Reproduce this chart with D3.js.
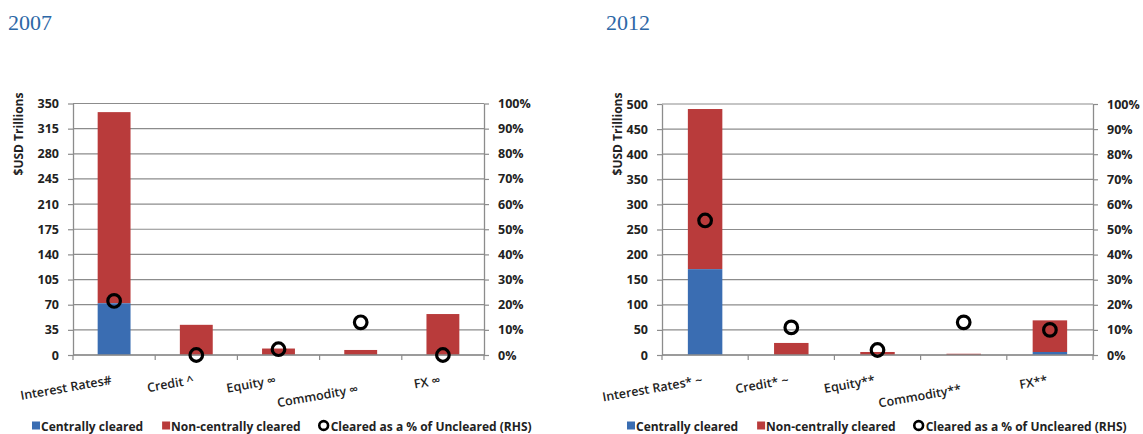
<!DOCTYPE html>
<html><head><meta charset="utf-8">
<script src="https://cdn.jsdelivr.net/npm/d3@7"></script>
<style>
body{margin:0;background:#fff;}
text{font-family:"Open Sans",sans-serif;}
</style></head>
<body><svg id="c" width="1143" height="434"></svg>
<script>
const categories2007 = ["Interest Rates#", "Credit ^", "Equity ∞", "Commodity ∞", "FX ∞"];
const central2007 = [72, 0, 0, 0, 0];
const nonCentral2007 = [266, 42, 9, 7, 57];
const pctCleared2007 = [21.5, 0, 2.3, 13, 0];
const leftTicks2007 = [0, 35, 70, 105, 140, 175, 210, 245, 280, 315, 350];

const categories2012 = ["Interest Rates* ~", "Credit* ~", "Equity**", "Commodity**", "FX**"];
const central2012 = [171, 0, 0, 0, 6];
const nonCentral2012 = [319, 24, 6, 2.5, 63];
const pctCleared2012 = [53.6, 11, 2, 13, 10];
const leftTicks2012 = [0, 50, 100, 150, 200, 250, 300, 350, 400, 450, 500];

const rightTicks = [0, 10, 20, 30, 40, 50, 60, 70, 80, 90, 100];
const legendLabels = ["Centrally cleared", "Non-centrally cleared", "Cleared as a % of Uncleared (RHS)"];
const yTitle = "$USD Trillions";

const BLUE = "#3a6db2", RED = "#b93b3b", GRID = "#8c8c8c", TXT = "#222";
const svg = d3.select("#c");

function drawChart(o) {
  const g = svg.append("g");
  g.append("text").attr("x", o.titleX).attr("y", 30).text(o.title)
    .attr("fill", "#2d67a6").style("font-family", "'Liberation Serif',serif").style("font-size", "22px");

  const x = d3.scaleBand().domain(o.cats).range([o.left, o.right]).paddingInner(0.6).paddingOuter(0.3);
  const xb = d3.scaleBand().domain(o.cats).range([o.left, o.right]);
  const y = d3.scaleLinear().domain([0, d3.max(o.ticks)]).range([o.bottom, o.top]);
  const y2 = d3.scaleLinear().domain([0, 100]).range([o.bottom, o.top]);

  g.append("g").selectAll("line").data(o.ticks).join("line")
    .attr("x1", o.left).attr("x2", o.right).attr("y1", d => y(d)).attr("y2", d => y(d))
    .attr("stroke", GRID).attr("stroke-width", 1.2);

  const la = g.append("g").attr("transform", `translate(${o.left},0)`)
    .call(d3.axisLeft(y).tickValues(o.ticks).tickSize(5).tickSizeOuter(0).tickPadding(9));
  la.select(".domain").attr("stroke", GRID).attr("stroke-width", 1.3);
  la.selectAll(".tick line").attr("stroke", GRID).attr("stroke-width", 1.2);
  la.selectAll("text").style("font-size", "12.5px").style("font-weight", "700").attr("fill", TXT)
    .style("font-family", "'Open Sans',sans-serif");

  const ra = g.append("g").attr("transform", `translate(${o.right},0)`)
    .call(d3.axisRight(y2).tickValues(rightTicks).tickFormat(d => d + "%").tickSize(5).tickSizeOuter(0).tickPadding(9));
  ra.select(".domain").attr("stroke", GRID).attr("stroke-width", 1.3);
  ra.selectAll(".tick line").attr("stroke", GRID).attr("stroke-width", 1.2);
  ra.selectAll("text").style("font-size", "12.5px").style("font-weight", "700").attr("fill", TXT)
    .style("font-family", "'Open Sans',sans-serif");

  const stack = o.cats.map((c, i) => ({ c, a: o.central[i], b: o.nonCentral[i] }));
  g.append("g").selectAll("rect.b").data(stack).join("rect")
    .attr("x", d => x(d.c)).attr("width", x.bandwidth())
    .attr("y", d => y(d.a + d.b)).attr("height", d => y(d.a) - y(d.a + d.b)).attr("fill", RED);
  g.append("g").selectAll("rect.a").data(stack).join("rect")
    .attr("x", d => x(d.c)).attr("width", x.bandwidth())
    .attr("y", d => y(d.a)).attr("height", d => y(0) - y(d.a)).attr("fill", BLUE);

  g.append("line").attr("x1", o.left).attr("x2", o.right).attr("y1", o.bottom).attr("y2", o.bottom)
    .attr("stroke", GRID).attr("stroke-width", 1.3);
  const bounds = o.cats.map(c => xb(c)).concat([o.right]);
  g.append("g").selectAll("line").data(bounds).join("line")
    .attr("x1", d => d).attr("x2", d => d).attr("y1", o.bottom).attr("y2", o.bottom + 5)
    .attr("stroke", GRID).attr("stroke-width", 1.2);

  let prevRight = -Infinity;
  o.cats.forEach(c => {
    const cx = xb(c) + xb.bandwidth() / 2 - 2;
    const t = g.append("text").text(c).attr("text-anchor", "end")
      .attr("transform", `translate(${cx},${o.bottom + 29}) rotate(-10)`)
      .style("font-size", "12.5px").style("font-weight", "600").attr("fill", TXT);
    const bb = t.node().getBBox();
    const w = bb.width * Math.cos(10 * Math.PI / 180);
    if (cx - w < prevRight + 12) {
      t.attr("transform", `translate(${cx},${o.bottom + 38}) rotate(-10)`);
    }
    prevRight = cx;
  });

  g.append("g").selectAll("circle").data(o.cats.map((c, i) => ({ c, p: o.pct[i] }))).join("circle")
    .attr("cx", d => xb(d.c) + xb.bandwidth() / 2).attr("cy", d => y2(d.p)).attr("r", 6.3)
    .attr("fill", "none").attr("stroke", "#000").attr("stroke-width", 3.2);

  g.append("text").text(yTitle).attr("text-anchor", "middle")
    .attr("transform", `translate(${o.yTitleX},134) rotate(-90)`)
    .style("font-size", "12px").style("font-weight", "700").attr("fill", TXT);

  const lg = g.append("g").attr("transform", `translate(${o.legendX},426)`);
  let lx = 0;
  legendLabels.forEach((lab, i) => {
    if (i < 2) {
      lg.append("rect").attr("x", lx).attr("y", -4.5).attr("width", 8).attr("height", 8)
        .attr("fill", i === 0 ? BLUE : RED);
    } else {
      lg.append("circle").attr("cx", lx + 4).attr("cy", -0.5).attr("r", 4.4)
        .attr("fill", "none").attr("stroke", "#000").attr("stroke-width", 2.6);
    }
    const t = lg.append("text").attr("x", lx + (i < 2 ? 9 : 11)).attr("y", 4.5).text(lab)
      .style("font-size", "12px").style("font-weight", "700").attr("fill", TXT);
    lx += (i < 2 ? 9 : 11) + t.node().getComputedTextLength() + 19;
  });
}

drawChart({ title: "2007", titleX: 8, cats: categories2007, central: central2007, nonCentral: nonCentral2007,
  pct: pctCleared2007, ticks: leftTicks2007, left: 73, right: 484, top: 103.5, bottom: 355,
  yTitleX: 23, legendX: 32 });
drawChart({ title: "2012", titleX: 606, cats: categories2012, central: central2012, nonCentral: nonCentral2012,
  pct: pctCleared2012, ticks: leftTicks2012, left: 662, right: 1093, top: 104, bottom: 355,
  yTitleX: 622, legendX: 627 });
</script></body></html>
